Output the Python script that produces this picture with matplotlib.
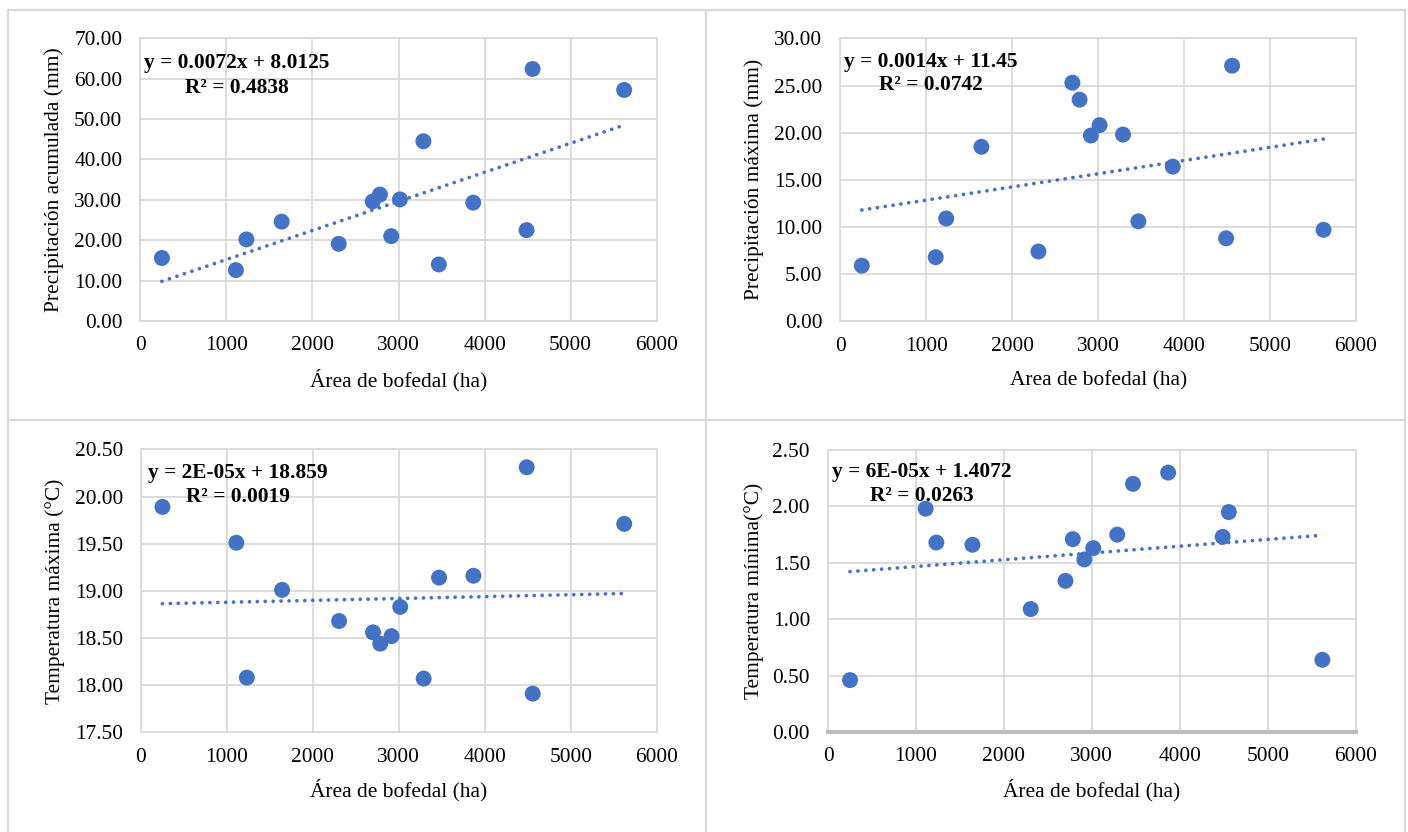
import matplotlib
matplotlib.use("Agg")
import matplotlib.pyplot as plt
from matplotlib.ticker import FormatStrFormatter, MultipleLocator
from matplotlib.lines import Line2D
import numpy as np

plt.rcParams['font.family'] = ['Liberation Serif', 'DejaVu Serif']

# ---- data ----
area_ha = [250, 1110, 1232, 1642, 2305, 2700, 2784, 2915, 3016, 3289, 3468, 3868, 4488, 4558, 5622]

precip_acum = [15.6, 12.6, 20.2, 24.6, 19.1, 29.6, 31.3, 21.0, 30.1, 44.5, 14.0, 29.3, 22.5, 62.4, 57.2]
precip_max = [5.9, 6.8, 10.9, 18.5, 7.4, 25.3, 23.5, 19.7, 20.8, 19.8, 10.6, 16.4, 8.8, 27.1, 9.7]
temp_max = [19.89, 19.51, 18.08, 19.01, 18.68, 18.56, 18.44, 18.52, 18.83, 18.07, 19.14, 19.16, 20.31, 17.91, 19.71]
temp_min = [0.46, 1.98, 1.68, 1.66, 1.09, 1.34, 1.71, 1.53, 1.63, 1.75, 2.20, 2.30, 1.73, 1.95, 0.64]

slopes = [0.0072, 0.0014, 2e-05, 6e-05]
intercepts = [8.0125, 11.45, 18.859, 1.4072]
eq_labels = ["y = 0.0072x + 8.0125", "y = 0.0014x + 11.45", "y = 2E-05x + 18.859", "y = 6E-05x + 1.4072"]
r2_labels = ["R² = 0.4838", "R² = 0.0742", "R² = 0.0019", "R² = 0.0263"]

ylabels = ["Precipitación acumulada (mm)", "Precipitación máxima (mm)",
           "Temperatura máxima (°C)", "Temperatura mínima(°C)"]
xlabels = ["Área de bofedal (ha)", "Area de bofedal (ha)", "Área de bofedal (ha)", "Área de bofedal (ha)"]
ylims = [(0, 70), (0, 30), (17.5, 20.5), (0, 2.5)]
ysteps = [10, 5, 0.5, 0.5]
series = [precip_acum, precip_max, temp_max, temp_min]

# ---- layout ----
W, H = 1408, 832
fig = plt.figure(figsize=(W / 100, H / 100), dpi=100)
fig.patch.set_facecolor('white')

positions = [
    [0.0997, 0.6142, 0.3667, 0.3398],
    [0.5968, 0.6138, 0.3663, 0.3401],
    [0.1001, 0.1198, 0.3663, 0.3401],
    [0.5881, 0.1202, 0.3747, 0.3389],
]
eq_pos = [(0.186, 0.913, 0.824), (0.176, 0.917, 0.835), (0.188, 0.915, 0.830), (0.178, 0.921, 0.837)]
xlab_y = [-0.209, -0.209, -0.204, -0.206]
ylab_x = [-0.167, -0.167, -0.166, -0.140]

blue = '#4472C4'
grid_c = '#d9d9d9'
fs = 15.4

for i in range(4):
    ax = fig.add_axes(positions[i])
    y = series[i]
    ax.set_xlim(0, 6000)
    ax.set_ylim(*ylims[i])
    ax.xaxis.set_major_locator(MultipleLocator(1000))
    ax.yaxis.set_major_locator(MultipleLocator(ysteps[i]))
    ax.yaxis.set_major_formatter(FormatStrFormatter('%.2f'))
    ax.grid(True, color=grid_c, linewidth=1.3, zorder=0)
    ax.set_axisbelow(True)
    for s in ax.spines.values():
        s.set_color(grid_c)
        s.set_linewidth(1.3)
    if i == 3:
        ax.spines['bottom'].set_color('#bfbfbf')
        ax.spines['bottom'].set_linewidth(3.0)
    ax.tick_params(axis='both', length=0, labelsize=fs, colors='black')
    ax.tick_params(axis='y', pad=13.0)
    ax.tick_params(axis='x', pad=11)

    ax.scatter(area_ha, y, s=132, color=blue, edgecolors='none', zorder=2)

    xs = np.array([min(area_ha), max(area_ha)])
    ax.plot(xs, slopes[i] * xs + intercepts[i], color=blue, linewidth=2.7,
            linestyle=(0, (0.01, 2.1)), dash_capstyle='round', zorder=3)

    ex, ey1, ey2 = eq_pos[i]
    ax.text(ex, ey1, eq_labels[i], transform=ax.transAxes, ha='center', va='center',
            fontsize=fs, fontweight='bold', zorder=4)
    ax.text(ex, ey2, r2_labels[i], transform=ax.transAxes, ha='center', va='center',
            fontsize=fs, fontweight='bold', zorder=4)

    ax.set_xlabel(xlabels[i], fontsize=fs, va='center')
    ax.xaxis.set_label_coords(0.5, xlab_y[i])
    ax.set_ylabel(ylabels[i], fontsize=fs, va='center')
    ax.yaxis.set_label_coords(ylab_x[i], 0.5)

# ---- table-like borders ----
def px_line(x0, y0, x1, y1):
    fig.add_artist(Line2D([x0 / W, x1 / W], [1 - y0 / H, 1 - y1 / H],
                          color=grid_c, linewidth=1.6, transform=fig.transFigure))

px_line(8, 10, 1405, 10)
px_line(8, 10, 8, 840)
px_line(1405, 10, 1405, 840)
px_line(706, 10, 706, 840)
px_line(8, 420, 1405, 420)

fig.savefig('out.png', dpi=100, facecolor='white')
